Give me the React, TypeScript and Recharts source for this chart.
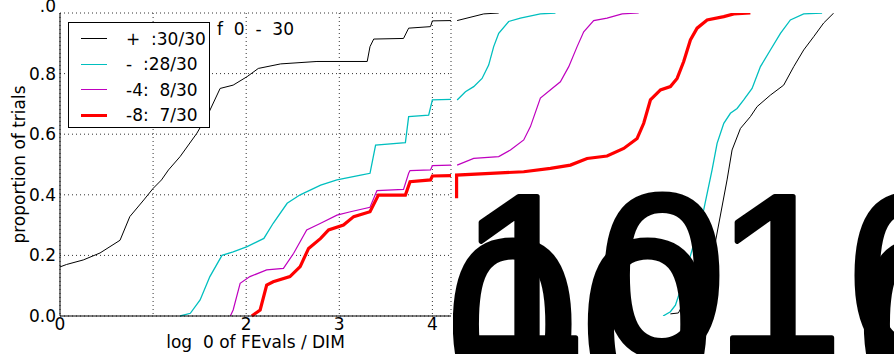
import { LineChart, Line, XAxis, YAxis, CartesianGrid, Legend } from 'recharts'

type Pt = { x: number; y: number }
const pts = (a: number[][]): Pt[] => a.map(([x, y]) => ({ x, y }))

// ECDF curves, x = log10(FEvals/DIM), y = proportion of trials
const blackMain = pts([
  [0, 0.162], [0.07, 0.17], [0.25, 0.185], [0.43, 0.208], [0.645, 0.25], [0.75, 0.328],
  [0.9, 0.383], [1.0, 0.421], [1.09, 0.449], [1.165, 0.482], [1.29, 0.526], [1.47, 0.603],
  [1.595, 0.669], [1.72, 0.751], [1.86, 0.762], [2.01, 0.79], [2.13, 0.817], [2.37, 0.832],
  [2.76, 0.84], [3.3, 0.84], [3.33, 0.889], [3.37, 0.914], [3.69, 0.916], [3.745, 0.95],
  [3.98, 0.955], [4.0, 0.974], [4.2, 0.975],
])
const cyanMain = pts([
  [1.29, 0.0], [1.4, 0.009], [1.505, 0.053], [1.61, 0.13], [1.74, 0.2], [1.86, 0.212],
  [2.01, 0.229], [2.19, 0.256], [2.29, 0.306], [2.44, 0.372], [2.58, 0.4], [2.8, 0.432],
  [2.975, 0.449], [3.23, 0.465], [3.33, 0.471], [3.39, 0.564], [3.71, 0.572], [3.745, 0.658],
  [3.96, 0.663], [4.0, 0.713], [4.2, 0.715],
])
const magentaMain = pts([
  [1.83, 0.0], [1.86, 0.02], [1.935, 0.108], [2.04, 0.13], [2.22, 0.152], [2.4, 0.157],
  [2.51, 0.207], [2.65, 0.284], [2.8, 0.306], [2.975, 0.333], [3.12, 0.344], [3.33, 0.359],
  [3.405, 0.414], [3.69, 0.418], [3.745, 0.471], [3.76, 0.48], [3.98, 0.482], [4.0, 0.496],
  [4.2, 0.498],
])
const redMain = pts([
  [2.06, 0.0], [2.15, 0.02], [2.22, 0.102], [2.29, 0.113], [2.47, 0.13], [2.58, 0.163],
  [2.67, 0.223], [2.8, 0.256], [2.885, 0.284], [3.045, 0.3], [3.155, 0.328], [3.33, 0.344],
  [3.42, 0.399], [3.71, 0.399], [3.76, 0.443], [3.98, 0.449], [4.0, 0.462], [4.2, 0.463],
])

// tails drawn past the axes frame
const blackTail = pts([[4.266, 0.975], [4.552, 0.997], [4.713, 1.0]])
const cyanTail = pts([
  [4.266, 0.713], [4.355, 0.74], [4.444, 0.757], [4.534, 0.784], [4.605, 0.828], [4.659, 0.889],
  [4.713, 0.933], [4.82, 0.972], [4.946, 0.983], [5.161, 0.997], [5.323, 1.0],
])
const magentaTail = pts([
  [4.266, 0.498], [4.444, 0.52], [4.713, 0.526], [4.839, 0.548], [4.982, 0.581], [5.054, 0.625],
  [5.161, 0.719], [5.287, 0.751], [5.376, 0.773], [5.466, 0.823], [5.556, 0.889], [5.627, 0.938],
  [5.734, 0.975], [5.878, 0.983], [6.04, 0.997], [6.218, 1.0],
])
const redTail = pts([
  [4.26, 0.389], [4.26, 0.465], [4.624, 0.471], [4.982, 0.476], [5.269, 0.487], [5.484, 0.498],
  [5.663, 0.52], [5.878, 0.528], [6.057, 0.553], [6.201, 0.586], [6.272, 0.636], [6.344, 0.713],
  [6.452, 0.746], [6.559, 0.757], [6.631, 0.784], [6.702, 0.84], [6.774, 0.911], [6.846, 0.95],
  [6.954, 0.977], [7.133, 0.988], [7.24, 0.997], [7.419, 1.0],
])
const cyanSecond = pts([
  [6.48, 0.0], [6.559, 0.014], [6.613, 0.036], [6.667, 0.086], [6.917, 0.35], [7.007, 0.482],
  [7.061, 0.57], [7.133, 0.636], [7.204, 0.669], [7.276, 0.685], [7.347, 0.713], [7.437, 0.751],
  [7.527, 0.823], [7.634, 0.878], [7.742, 0.933], [7.849, 0.977], [7.992, 0.997], [8.19, 1.0],
])
const blackSecond = pts([
  [6.559, 0.007], [6.645, 0.01], [7.043, 0.245], [7.168, 0.449], [7.186, 0.482], [7.222, 0.548],
  [7.312, 0.619], [7.419, 0.658], [7.491, 0.691], [7.634, 0.729], [7.777, 0.762], [7.885, 0.823],
  [7.992, 0.878], [8.1, 0.922], [8.207, 0.967], [8.315, 1.0],
])

const seriesNames = ['+\u00a0\u00a0:30/30', '-\u00a0\u00a0:28/30', '-4:\u00a0\u00a08/30', '-8:\u00a0\u00a07/30']
const seriesColors = ['#000000', '#00bfbf', '#bf00bf', '#ff0000']
const seriesWidths = [1, 1.3, 1.2, 3.2]

const xTicks = [0, 1, 2, 3, 4]
const yTicks = [0, 0.2, 0.4, 0.6, 0.8, 1]
const minorTicks = Array.from({ length: 85 }, (_, i) => +(i * 0.05).toFixed(2))

const titleText = 'f\u00a0\u00a00\u00a0\u00a0-\u00a0\u00a030'
const xLabel = 'log\u00a0\u00a00 of FEvals / DIM'
const yLabel = 'proportion of trials'

// the oversized "10" tick labels that spill over the right-hand side
const bigGlyphs = [
  { t: '1', x: 459, y: 355, s: 230 },
  { t: '0', x: 598, y: 355, s: 230 },
  { t: '1', x: 715, y: 355, s: 230 },
  { t: '0', x: 848, y: 355, s: 230 },
  { t: '0', x: 446, y: 406, s: 238 },
  { t: '0', x: 581, y: 406, s: 238 },
  { t: '0', x: 857, y: 406, s: 238 },
]

const font = 'DejaVu Sans'
const tickStyle = { fontSize: 17, fill: '#000', fontFamily: font }

const LegendBox = () => (
  <div
    style={{
      border: '1px solid #000',
      background: '#fff',
      width: 142,
      height: 106,
      boxSizing: 'border-box',
      paddingTop: 3,
      fontFamily: font,
      fontSize: 17,
    }}
  >
    {seriesNames.map((n, i) => (
      <div key={n} style={{ display: 'flex', alignItems: 'center', height: 25.5 }}>
        <div style={{ marginLeft: 12, width: 26, height: seriesWidths[i], background: seriesColors[i] }} />
        <span style={{ marginLeft: 19, whiteSpace: 'pre' }}>{n}</span>
      </div>
    ))}
  </div>
)

const YTick = (p: any) => (
  <text x={p.x} y={p.y} dy={p.payload.value === 1 ? -1 : 6} textAnchor="end" {...tickStyle}>
    {p.payload.value === 1 ? '.0' : p.payload.value.toFixed(1)}
  </text>
)

const line = (d: Pt[], i: number, key: string) => (
  <Line
    key={key}
    data={d}
    dataKey="y"
    name={key}
    type="linear"
    stroke={seriesColors[i]}
    strokeWidth={seriesWidths[i]}
    dot={false}
    isAnimationActive={false}
    legendType="none"
  />
)

export default function App() {
  return (
    <div style={{ position: 'absolute', left: 0, top: 0, width: 894, height: 354, background: '#fff', overflow: 'hidden' }}>
      <div style={{ position: 'absolute', left: 0, top: 0 }}>
        <LineChart width={460} height={354} margin={{ top: 13, right: 9, bottom: 0, left: 0 }}>
          <CartesianGrid stroke="#333" strokeDasharray="1 3" />
          <XAxis xAxisId="minor" type="number" dataKey="x" domain={[0, 4.2]} ticks={minorTicks} height={0}
            tick={false} mirror tickSize={3} axisLine={false} tickLine={{ stroke: '#000' }} allowDataOverflow />
          <XAxis type="number" dataKey="x" domain={[0, 4.2]} ticks={xTicks} height={38} allowDataOverflow
            tickFormatter={(v: number) => (v === 1 ? '' : String(v))} tick={tickStyle} tickSize={0} tickMargin={2}
            axisLine={{ stroke: '#000' }} tickLine={false}
            label={{ value: xLabel, position: 'insideBottom', offset: 6, style: { ...tickStyle } }} />
          <XAxis xAxisId="top" orientation="top" type="number" dataKey="x" domain={[0, 4.2]} height={0}
            tick={false} tickLine={false} axisLine={{ stroke: '#000' }} />
          <YAxis type="number" domain={[0, 1]} ticks={yTicks} width={60} tick={<YTick />} tickSize={0} tickMargin={4}
            axisLine={{ stroke: '#000' }} tickLine={false}
            label={{ value: yLabel, angle: -90, position: 'insideLeft', offset: 19, style: { ...tickStyle, textAnchor: 'middle' } }} />
          <YAxis yAxisId="right" orientation="right" type="number" domain={[0, 1]} width={0}
            tick={false} tickLine={false} axisLine={{ stroke: '#000' }} />
          {line(blackMain, 0, 'black')}
          {line(cyanMain, 1, 'cyan')}
          {line(magentaMain, 2, 'magenta')}
          {line(redMain, 3, 'red')}
          <Legend layout="horizontal" verticalAlign="middle" align="center" content={() => <LegendBox />}
            wrapperStyle={{ left: 68, top: 22, width: 142, height: 106 }} />
        </LineChart>
      </div>
      <div style={{ position: 'absolute', left: 451, top: 0 }}>
        <LineChart width={443} height={354} margin={{ top: 13, right: 0, bottom: 38, left: 0 }}>
          <XAxis type="number" dataKey="x" domain={[4.2, 8.963]} hide allowDataOverflow />
          <YAxis type="number" domain={[0, 1]} hide allowDataOverflow />
          {line(blackTail, 0, 'blackTail')}
          {line(cyanTail, 1, 'cyanTail')}
          {line(magentaTail, 2, 'magentaTail')}
          {line(redTail, 3, 'redTail')}
          {line(cyanSecond, 1, 'cyanSecond')}
          {line(blackSecond, 0, 'blackSecond')}
        </LineChart>
      </div>
      <svg width={894} height={354} style={{ position: 'absolute', left: 0, top: 0, pointerEvents: 'none' }}>
        <defs>
          <clipPath id="rightArea">
            <rect x={453} y={0} width={441} height={354} />
          </clipPath>
        </defs>
        <text x={217} y={35} fontFamily={font} fontSize={17} style={{ whiteSpace: 'pre' }}>{titleText}</text>
        <g clipPath="url(#rightArea)" fontFamily="Liberation Sans" fill="#000" stroke="#000" strokeWidth={5} strokeLinejoin="round">
          {bigGlyphs.map((g, i) => (
            <text key={i} x={g.x} y={g.y} fontSize={g.s}>{g.t}</text>
          ))}
        </g>
      </svg>
    </div>
  )
}
